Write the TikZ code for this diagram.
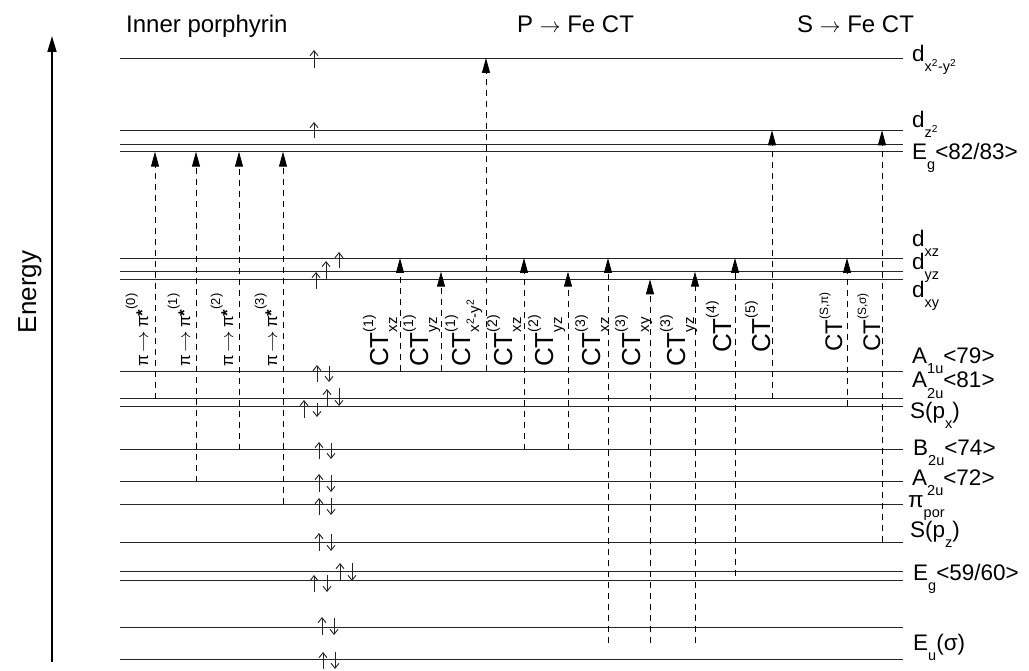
\documentclass[tikz,border=0pt]{standalone}
\usepackage{fontspec}
\setmainfont{Liberation Sans}
\usepackage{amsmath}
\usepackage{graphicx}
\usetikzlibrary{arrows.meta}
\newcommand\fs[1]{\fontsize{#1}{#1}\selectfont}
\newcommand\lsub[1]{\raisebox{-10pt}{\fs{14.5}#1}}
\newcommand\ctsup[1]{\rlap{\raisebox{15pt}{\fs{14}#1}}}
\newcommand\ctsub[1]{\raisebox{-9pt}{\fs{15}#1}}
\newcommand\pisup[1]{\textbf{*}\raisebox{13pt}{\fs{13}#1}}
\newcommand\parr{\,\scalebox{1.25}[1]{$\rightarrow$}\,}
\begin{document}
\begin{tikzpicture}[x=1pt,y=-1pt,
  lev/.style={line width=0.9pt, black!85},
  tr/.style={line width=0.9pt, dash pattern=on 6pt off 5pt, -{Triangle[length=15pt,width=8pt]}},
  el/.style={line width=0.9pt, black!85, -{Straight Barb[length=5pt,width=8pt]}},
  rl/.style={anchor=base west, inner sep=0pt, font=\fs{22.5}},
  ct/.style={rotate=90, anchor=base west, inner sep=0pt, font=\fs{26}},
  ctS/.style={rotate=90, anchor=base west, inner sep=0pt, font=\fs{24}},
  pil/.style={rotate=90, anchor=base west, inner sep=0pt, font=\fs{17}},
  ttl/.style={anchor=base west, inner sep=0pt, font=\fs{24}}]
\useasboundingbox (0,0) rectangle (1029,671);

% energy axis
\coordinate (ax0) at (52,662);
\coordinate (ax1) at (52,36);
\draw[line width=1.8pt, -{Triangle[length=16pt,width=9pt]}] (ax0) -- (ax1);
\node[rotate=90, font=\fs{26}, inner sep=0pt] (energy) at (30,292) {Energy};

% titles
\node[ttl] (t1) at (126,33) {Inner porphyrin};
\node[ttl] (t2) at (517,33) {P {\fs{20}$\rightarrow$} Fe CT};
\node[ttl] (t3) at (797,33) {S {\fs{20}$\rightarrow$} Fe CT};

% levels
\foreach \n/\y in {dxy2/58, dz2/130.3, Eg82a/144.3, Eg82b/151.7, dxz/258, dyz/271.7, dxy/279.3,
  A1u/371, A2u81/398.7, Spx/406, B2u/449.7, A2u72/481.7, ppor/504.3, Spz/542,
  Eg59a/571.3, Eg59b/580.7, Eua/627, Eub/659}{
  \coordinate (L-\n) at (120,\y);
  \coordinate (R-\n) at (903,\y);
  \draw[lev] (L-\n) -- (R-\n);
}
\coordinate (E3end) at (903,643);
\coordinate (E4end) at (903,576);

% level labels
\node[rl] (n-dxy2) at (912,62) {d\lsub{x\textsuperscript{2}-y\textsuperscript{2}}};
\node[rl] (n-dz2) at (912,128) {d\lsub{z\textsuperscript{2}}};
\node[rl] (n-Eg82) at (912,160) {E\lsub{g}<82/83>};
\node[rl] (n-dxz) at (912,247) {d\lsub{xz}};
\node[rl] (n-dyz) at (912,270) {d\lsub{yz}};
\node[rl] (n-dxy) at (912,298) {d\lsub{xy}};
\node[rl] (n-A1u) at (912,363) {A\lsub{1u}<79>};
\node[rl] (n-A2u81) at (912,388) {A\lsub{2u}<81>};
\node[rl] (n-Spx) at (910,418) {S(p\lsub{x})};
\node[rl] (n-B2u) at (913,455) {B\lsub{2u}<74>};
\node[rl] (n-A2u72) at (912,485) {A\lsub{2u}<72>};
\node[rl] (n-ppor) at (908,507) {π\lsub{por}};
\node[rl] (n-Spz) at (910,537) {S(p\lsub{z})};
\node[rl] (n-Eg59) at (913,580) {E\lsub{g}<59/60>};
\node[rl] (n-Eu) at (913,650) {E\lsub{u}(σ)};

% electrons
\foreach \x/\a/\b in {314/68/50, 314/138/122, 316/289/272, 326/279/261, 339/268/252,
  317/382/365, 329/366/382, 327/406/389, 339/388/406, 304/418/400, 317/403/417,
  319/459/442, 331/443/459, 319/492/474, 331/475/492, 319/515/498, 331/498/515,
  319/551/533, 331/534/551, 340/581/563, 352/563/581, 314/592/575, 327/575/592,
  322/635/617, 334/618/635, 323/669/652, 335/652/669}{
  \draw[el] (\x,\a) -- (\x,\b);
}

% pi -> pi* transitions
\draw[tr] (155,0 |- L-A2u81) -- (155,0 |- L-Eg82b);
\draw[tr] (196,0 |- L-A2u72) -- (196,0 |- L-Eg82b);
\draw[tr] (239,0 |- L-B2u) -- (239,0 |- L-Eg82b);
\draw[tr] (283,0 |- L-ppor) -- (283,0 |- L-Eg82b);
\node[pil] (pp0) at (148,367) {π\parr π\pisup{(0)}};
\node[pil] (pp1) at (190,367) {π\parr π\pisup{(1)}};
\node[pil] (pp2) at (233,367) {π\parr π\pisup{(2)}};
\node[pil] (pp3) at (277,367) {π\parr π\pisup{(3)}};

% P -> Fe CT
\draw[tr] (400,0 |- L-A1u) -- (400,0 |- L-dxz);
\draw[tr] (441,0 |- L-A1u) -- (441,0 |- L-dyz);
\draw[tr] (486,0 |- L-A1u) -- (486,0 |- L-dxy2);
\draw[tr] (524,0 |- L-B2u) -- (524,0 |- L-dxz);
\draw[tr] (568,0 |- L-B2u) -- (568,0 |- L-dyz);
\draw[tr] (608,0 |- E3end) -- (608,0 |- L-dxz);
\draw[tr] (650,0 |- E3end) -- (650,0 |- L-dxy);
\draw[tr] (695,0 |- E3end) -- (695,0 |- L-dyz);
\draw[tr] (735,0 |- E4end) -- (735,0 |- L-dxz);
\draw[tr] (772,0 |- L-A2u81) -- (772,0 |- L-dz2);
% S -> Fe CT
\draw[tr] (847,0 |- L-Spx) -- (847,0 |- L-dxz);
\draw[tr] (882,0 |- L-Spz) -- (882,0 |- L-dz2);

\node[ct] (c1) at (388,367) {CT\ctsup{(1)}\ctsub{xz}};
\node[ct] (c2) at (428,367) {CT\ctsup{(1)}\ctsub{yz}};
\node[ct] (c3) at (470,367) {CT\ctsup{(1)}\ctsub{x\textsuperscript{2}-y\textsuperscript{2}}};
\node[ct] (c4) at (512,367) {CT\ctsup{(2)}\ctsub{xz}};
\node[ct] (c5) at (553,367) {CT\ctsup{(2)}\ctsub{yz}};
\node[ct] (c6) at (600,367) {CT\ctsup{(3)}\ctsub{xz}};
\node[ct] (c7) at (640,367) {CT\ctsup{(3)}\ctsub{xy}};
\node[ct] (c8) at (685,367) {CT\ctsup{(3)}\ctsub{yz}};
\node[ct] (c9) at (731,353) {CT\raisebox{15pt}{\fs{14}(4)}};
\node[ct] (c10) at (770,353) {CT\raisebox{15pt}{\fs{14}(5)}};
\node[ctS] (c11) at (842,352) {CT\raisebox{14pt}{\fs{12}(S,π)}};
\node[ctS] (c12) at (880,352) {CT\raisebox{14pt}{\fs{12}(S,σ)}};
\end{tikzpicture}
\end{document}
